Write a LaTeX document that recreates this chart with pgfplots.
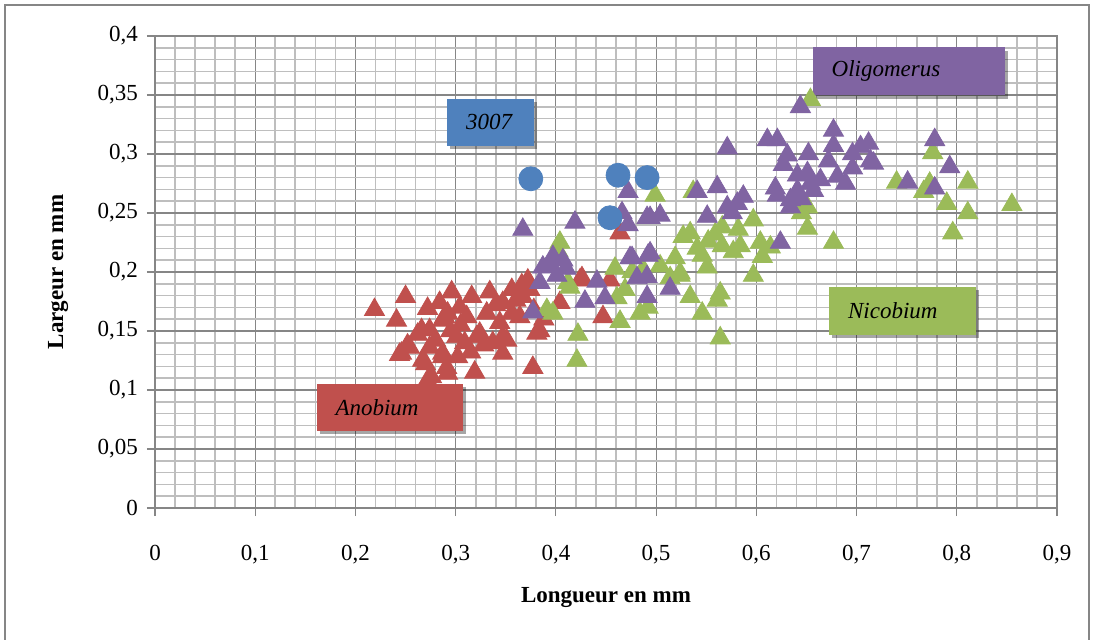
\documentclass[border=0pt]{standalone}
\usepackage{fontspec}
\setmainfont{Liberation Serif}
\usepackage{pgfplots}
\pgfplotsset{compat=1.18}
\usetikzlibrary{shadows}

\definecolor{anob}{HTML}{C0504D}
\definecolor{nico}{HTML}{9BBB59}
\definecolor{olig}{HTML}{8064A2}
\definecolor{blu}{HTML}{4F81BD}
\definecolor{majg}{HTML}{868686}
\definecolor{ming}{HTML}{BEBEBE}

\pgfplotstableread{
x y
0.219 0.168
0.250 0.179
0.241 0.159
0.244 0.130
0.252 0.138
0.246 0.131
0.254 0.136
0.262 0.147
0.266 0.151
0.267 0.125
0.270 0.122
0.272 0.169
0.274 0.136
0.274 0.151
0.276 0.111
0.272 0.108
0.280 0.142
0.284 0.174
0.287 0.131
0.287 0.159
0.289 0.162
0.291 0.119
0.292 0.114
0.287 0.128
0.292 0.165
0.295 0.150
0.296 0.183
0.301 0.145
0.302 0.128
0.304 0.170
0.305 0.155
0.309 0.140
0.311 0.162
0.315 0.132
0.316 0.179
0.319 0.115
0.321 0.145
0.324 0.148
0.328 0.138
0.331 0.165
0.334 0.183
0.337 0.140
0.340 0.172
0.344 0.157
0.347 0.145
0.347 0.131
0.347 0.174
0.351 0.142
0.356 0.185
0.356 0.165
0.360 0.176
0.364 0.162
0.366 0.189
0.367 0.179
0.372 0.193
0.374 0.185
0.377 0.119
0.381 0.148
0.384 0.150
0.378 0.168
0.388 0.160
0.404 0.174
0.424 0.193
0.426 0.195
0.447 0.162
0.454 0.193
0.464 0.233
}\anobium

\pgfplotstableread{
x y
0.654 0.346
0.776 0.301
0.740 0.276
0.767 0.268
0.773 0.275
0.811 0.276
0.790 0.258
0.811 0.250
0.796 0.233
0.855 0.257
0.651 0.255
0.645 0.250
0.651 0.237
0.677 0.225
0.499 0.265
0.537 0.268
0.642 0.255
0.597 0.244
0.566 0.238
0.582 0.236
0.534 0.233
0.527 0.230
0.552 0.226
0.566 0.222
0.584 0.222
0.604 0.225
0.614 0.221
0.606 0.213
0.577 0.217
0.519 0.212
0.546 0.214
0.551 0.204
0.524 0.199
0.597 0.197
0.504 0.205
0.487 0.202
0.459 0.203
0.469 0.185
0.461 0.178
0.484 0.165
0.464 0.158
0.492 0.170
0.514 0.195
0.524 0.197
0.534 0.179
0.546 0.165
0.564 0.182
0.561 0.176
0.564 0.144
0.422 0.147
0.421 0.125
0.414 0.187
0.404 0.225
0.402 0.218
0.412 0.191
0.391 0.168
0.397 0.165
0.476 0.200
0.541 0.220
0.559 0.232
}\nicobium

\pgfplotstableread{
x y
0.367 0.236
0.419 0.242
0.472 0.268
0.466 0.250
0.472 0.240
0.491 0.246
0.494 0.246
0.504 0.248
0.397 0.213
0.407 0.210
0.387 0.204
0.384 0.191
0.401 0.197
0.395 0.205
0.410 0.203
0.441 0.192
0.429 0.175
0.449 0.178
0.476 0.212
0.491 0.196
0.491 0.179
0.377 0.166
0.474 0.212
0.492 0.214
0.481 0.195
0.514 0.186
0.541 0.268
0.561 0.272
0.551 0.247
0.571 0.255
0.581 0.258
0.587 0.264
0.576 0.250
0.571 0.305
0.644 0.340
0.611 0.312
0.621 0.312
0.631 0.299
0.627 0.291
0.652 0.300
0.677 0.320
0.677 0.307
0.672 0.294
0.681 0.281
0.689 0.275
0.696 0.300
0.704 0.306
0.712 0.309
0.714 0.294
0.717 0.292
0.696 0.288
0.641 0.282
0.651 0.284
0.654 0.275
0.641 0.269
0.657 0.269
0.619 0.271
0.621 0.265
0.634 0.261
0.634 0.255
0.645 0.262
0.664 0.278
0.494 0.216
0.624 0.225
0.778 0.312
0.793 0.289
0.751 0.276
0.778 0.271
}\oligomerus

\pgfplotstableread{
x y
0.375 0.279
0.462 0.282
0.491 0.280
0.454 0.246
}\troismille

\begin{document}
\begin{tikzpicture}[font=\fontsize{11.5pt}{13pt}\selectfont,
  labelbox/.style={drop shadow={shadow xshift=1.6pt, shadow yshift=-1.6pt, fill=black, opacity=0.35},
    inner xsep=9.5pt, inner ysep=0pt, align=left, font=\fontsize{11.5pt}{13pt}\selectfont\itshape}]
\useasboundingbox (0,0) rectangle (547pt,319.5pt);
\draw[majg, line width=0.8pt] (2.5pt,-1pt) -- (2.5pt,317pt) -- (544.5pt,317pt) -- (544.5pt,-1pt);
\begin{axis}[
  at={(77.5pt,65.5pt)}, anchor=south west,
  scale only axis, width=451pt, height=236pt,
  xmin=0, xmax=0.9, ymin=0, ymax=0.4,
  xtick={0,0.1,...,0.9}, ytick={0,0.05,...,0.4},
  minor x tick num=4, minor y tick num=4,
  grid=both,
  major grid style={majg, line width=0.55pt},
  minor grid style={ming, line width=0.85pt},
  axis line style={majg, line width=0.6pt},
  tick align=outside, xtick pos=left, ytick pos=left,
  major tick length=4pt, minor tick length=0pt,
  tick style={majg, line width=0.6pt},
  scaled ticks=false,
  /pgf/number format/.cd, fixed, use comma, precision=2, assume math mode=true,
  /pgfplots/.cd,
  xticklabel style={yshift=-11pt},
  yticklabel style={xshift=-1pt},
  xlabel={\textbf{Longueur en mm}},
  ylabel={\textbf{Largeur en mm}},
  xlabel style={at={(axis description cs:0.5,-0.1886)}, anchor=center},
  ylabel style={at={(axis description cs:-0.1075,0.5)}, anchor=center, rotate=0},
]
\addplot[only marks, mark=triangle*, mark size=5.8pt, color=anob] table {\anobium};
\addplot[only marks, mark=triangle*, mark size=5.8pt, color=nico] table {\nicobium};
\addplot[only marks, mark=triangle*, mark size=5.8pt, color=olig] table {\oligomerus};
\addplot[only marks, mark=*, mark size=6pt, color=blu] table {\troismille};

\node[labelbox, fill=blu, text width=24.5pt, minimum height=23.5pt] at (axis cs:0.335,0.327) {3007};
\node[labelbox, fill=olig, text width=77pt, minimum height=24pt] at (axis cs:0.752,0.370) {Oligomerus};
\node[labelbox, fill=nico, text width=54.5pt, minimum height=24pt] at (axis cs:0.746,0.167) {Nicobium};
\node[labelbox, fill=anob, text width=54pt, minimum height=23.5pt] at (axis cs:0.234,0.085) {Anobium};
\end{axis}
\end{tikzpicture}
\end{document}
